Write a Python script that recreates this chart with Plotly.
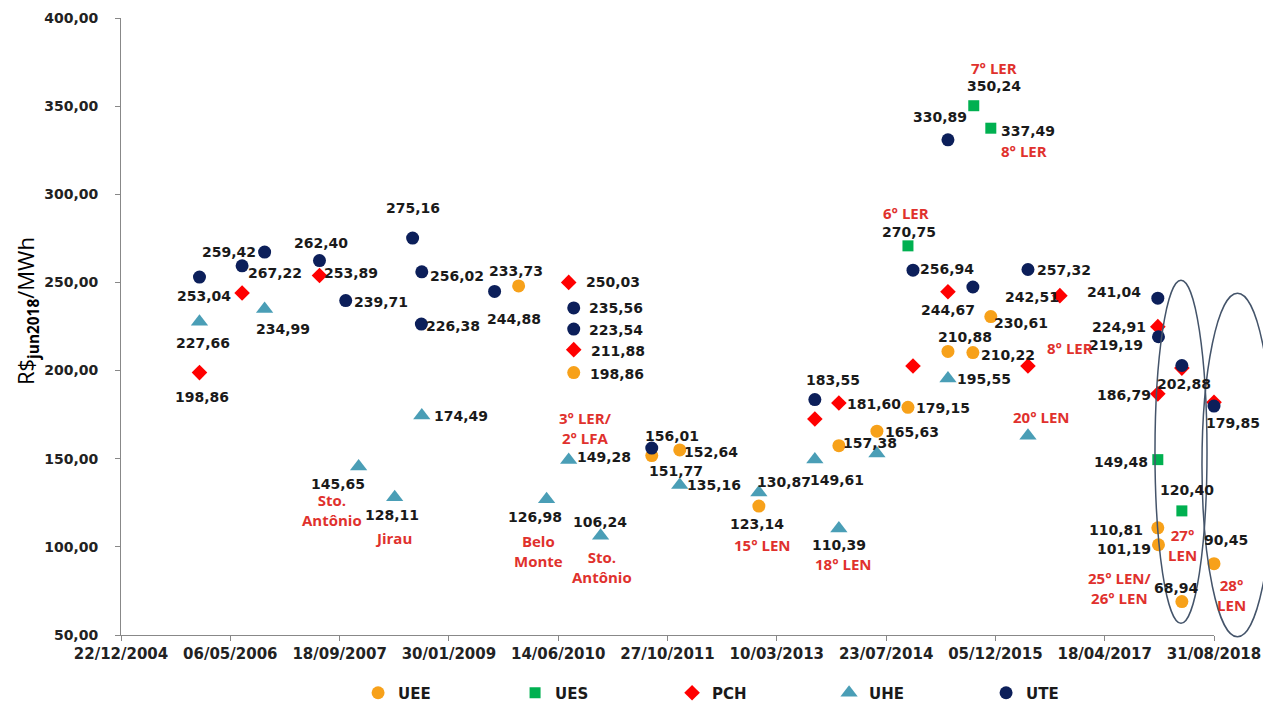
import plotly.graph_objects as go

# --- data ---
uee_dates = ["2009-12-15", "2010-08-24", "2011-08-16", "2011-12-22", "2012-12-18",
             "2013-12-19", "2014-06-11", "2014-10-31", "2015-05-02", "2015-08-24",
             "2015-11-14", "2017-12-17", "2017-12-20", "2018-04-06", "2018-08-31"]
uee_values = [248.0, 198.86, 151.77, 155.0, 123.14, 157.38, 165.63, 179.15, 210.88,
              210.22, 230.61, 110.81, 101.19, 68.94, 90.45]
uee_labels = ["233,73", "198,86", "151,77", "152,64", "123,14", "157,38", "165,63",
              "179,15", "210,88", "210,22", "230,61", "110,81", "101,19", "68,94", "90,45"]

ues_dates = ["2014-10-31", "2015-08-28", "2015-11-14", "2017-12-17", "2018-04-06"]
ues_values = [270.75, 350.24, 337.49, 149.48, 120.40]
ues_labels = ["270,75", "350,24", "337,49", "149,48", "120,40"]

pch_dates = ["2005-12-16", "2006-06-29", "2007-06-18", "2010-08-01", "2010-08-24",
             "2013-08-31", "2013-12-19", "2014-11-23", "2015-05-02", "2016-05-02",
             "2016-09-25", "2017-12-17", "2017-12-17", "2018-04-06", "2018-08-31"]
pch_values = [198.86, 244.0, 253.89, 250.03, 211.88, 172.5, 181.60, 202.6, 244.67,
              202.6, 242.51, 224.91, 186.79, 201.4, 182.0]
pch_labels = ["198,86", "", "253,89", "250,03", "211,88", "", "181,60", "", "244,67",
              "", "242,51", "224,91", "186,79", "", ""]

uhe_dates = ["2005-12-16", "2006-10-10", "2007-12-14", "2008-05-27", "2008-09-28",
             "2010-04-22", "2010-08-01", "2010-12-25", "2011-12-22", "2012-12-18",
             "2013-08-31", "2013-12-19", "2014-06-11", "2015-05-02", "2016-05-02"]
uhe_values = [227.66, 234.99, 145.65, 128.11, 174.49, 126.98, 149.28, 106.24, 135.16,
              130.87, 149.61, 110.39, 153.0, 195.55, 163.0]
uhe_labels = ["227,66", "234,99", "145,65", "128,11", "174,49", "126,98", "149,28",
              "106,24", "135,16", "130,87", "149,61", "110,39", "", "195,55", ""]

ute_dates = ["2005-12-16", "2006-06-29", "2006-10-10", "2007-06-18", "2007-10-16",
             "2008-08-17", "2008-09-28", "2008-09-26", "2009-08-27", "2010-08-24",
             "2010-08-24", "2011-08-16", "2013-08-31", "2014-11-23", "2015-05-02",
             "2015-08-24", "2016-05-02", "2017-12-17", "2017-12-20", "2018-04-06",
             "2018-08-31"]
ute_values = [253.04, 259.42, 267.22, 262.40, 239.71, 275.16, 256.02, 226.38, 244.88,
              235.56, 223.54, 156.01, 183.55, 256.94, 330.89, 247.4, 257.32, 241.04,
              219.19, 202.88, 179.85]
ute_labels = ["253,04", "259,42", "267,22", "262,40", "239,71", "275,16", "256,02",
              "226,38", "244,88", "235,56", "223,54", "156,01", "183,55", "256,94",
              "330,89", "", "257,32", "241,04", "219,19", "202,88", "179,85"]

# label offsets in px (dx right, dy down) relative to each point
uee_label_pos = [(-3, -15), (43, 1), (24, 15), (31, 2), (-2, 18), (31, -3), (35, 1),
                 (35, 1), (17, -14), (35, 2), (30, 6), (-42, 2), (-34, 4), (-5, -14), (12, -24)]
ues_label_pos = [(1, -14), (20, -20), (37, 3), (-37, 2), (5, -21)]
pch_label_pos = [(3, 24), None, (32, -3), (44, 0), (44, 1), None, (35, 1), None, (0, 18),
                 None, (-28, 1), (-39, 0), (-34, 1), None, None]
uhe_label_pos = [(4, 21), (18, 20), (-21, 18), (-3, 18), (39, 0), (-12, 18), (35, -3),
                 (-1, -14), (34, 0), (25, -10), (22, 21), (0, 16), None, (36, 1), None]
ute_label_pos = [(5, 19), (-13, -14), (10, 21), (2, -18), (35, 1), (0, -30), (35, 4),
                 (32, 2), (19, 28), (42, 0), (42, 1), (20, -12), (18, -20), (34, -1),
                 (-8, -23), None, (36, 0), (-44, -6), (-42, 8), (2, 19), (19, 17)]

# red auction notes: (series, point index, text, dx, dy)
notes = [
    ("UHE", 2, "Sto.<br>Antônio", -27, 44),
    ("UHE", 3, "Jirau", -1, 41),
    ("UHE", 5, "Belo<br>Monte", -8, 52),
    ("UHE", 7, "Sto.<br>Antônio", 1, 31),
    ("UHE", 6, "3° LER/<br>2° LFA", 17, -32),
    ("UEE", 4, "15° LEN", 4, 39),
    ("UHE", 11, "18° LEN", 5, 35),
    ("UES", 0, "6° LER", -2, -33),
    ("UES", 1, "7° LER", 20, -38),
    ("UES", 2, "8° LER", 33, 23),
    ("UHE", 14, "20° LEN", 14, -19),
    ("PCH", 9, "8° LER", 42, -18),
    ("UEE", 12, "25° LEN/<br>26° LEN", -38, 43),
    ("UES", 4, "27°<br>LEN", 1, 34),
    ("UEE", 14, "28°<br>LEN", 17, 31),
]

series = {
    "UEE": (uee_dates, uee_values, uee_labels, uee_label_pos),
    "UES": (ues_dates, ues_values, ues_labels, ues_label_pos),
    "PCH": (pch_dates, pch_values, pch_labels, pch_label_pos),
    "UHE": (uhe_dates, uhe_values, uhe_labels, uhe_label_pos),
    "UTE": (ute_dates, ute_values, ute_labels, ute_label_pos),
}
styles = {
    "UEE": dict(symbol="circle", color="#F7A11A", size=13),
    "UES": dict(symbol="square", color="#00B050", size=11),
    "PCH": dict(symbol="diamond", color="#FF0000", size=12),
    "UHE": dict(symbol="triangle-up", color="#4A9EB6", size=15),
    "UTE": dict(symbol="circle", color="#0C1F5A", size=13),
}

label_font = dict(family="DejaVu Sans", size=14, color="#1a1a1a", weight="bold")
note_font = dict(family="Open Sans", size=15, color="#E0312D", weight="bold")

fig = go.Figure()
for name, (dates, values, labels, pos) in series.items():
    st = styles[name]
    fig.add_trace(go.Scatter(
        x=dates, y=values,
        mode="markers",
        name=name,
        cliponaxis=False,
        marker=dict(symbol=st["symbol"], color=st["color"], size=st["size"], line=dict(width=0)),
    ))
    for d, v, lab, off in zip(dates, values, labels, pos):
        if not lab:
            continue
        fig.add_annotation(x=d, y=v, text=lab, showarrow=False,
                           xshift=off[0], yshift=-off[1], font=label_font)

for name, i, text, dx, dy in notes:
    dates, values = series[name][0], series[name][1]
    fig.add_annotation(x=dates[i], y=values[i], text=text, showarrow=False,
                       xshift=dx, yshift=-dy, font=note_font)

# the two ellipses around the 2017/2018 auctions
for x0, x1, y0, y1 in [(0.946, 0.9936, 0.019, 0.575), (0.989, 1.054, -0.003, 0.554)]:
    fig.add_shape(type="circle", xref="paper", yref="paper",
                  x0=x0, x1=x1, y0=y0, y1=y1,
                  line=dict(color="#44546A", width=1.5))

# y axis title as rotated text
fig.add_annotation(xref="paper", yref="paper", x=-0.086, y=0.525, textangle=-90,
                   xanchor="center", yanchor="middle",
                   text="R$<sub><b>jun2018</b></sub>/MWh", showarrow=False,
                   font=dict(family="Open Sans", size=22, color="#000000"))

# page body adds an 8px margin, so the figure is 8px smaller each way
fig.update_layout(
    width=1263, height=696,
    margin=dict(l=113, r=57, t=10, b=69, autoexpand=False),
    plot_bgcolor="white", paper_bgcolor="white",
    separators=",.",
    showlegend=True,
    legend=dict(orientation="h", x=0.576, xanchor="center", y=-0.094, yanchor="middle",
                entrywidth=112, font=dict(family="DejaVu Sans", size=15, color="#1a1a1a", weight="bold")),
    xaxis=dict(
        type="date",
        range=["2004-12-22", "2018-08-31"],
        tick0="2004-12-22", dtick=500 * 86400000,
        tickformat="%d/%m/%Y",
        showline=True, linecolor="#888888", linewidth=1,
        ticks="outside", ticklen=5, tickcolor="#888888",
        showgrid=False, zeroline=False, automargin=False,
        tickfont=dict(family="DejaVu Sans", size=15, color="#222222", weight="bold"),
    ),
    yaxis=dict(
        range=[50, 400], dtick=50, tickformat=".2f",
        showline=True, linecolor="#888888", linewidth=1,
        ticks="outside", ticklen=5, tickcolor="#888888",
        showgrid=False, zeroline=False, automargin=False,
        ticklabelstandoff=14,
        tickfont=dict(family="DejaVu Sans", size=14, color="#222222", weight="bold"),
    ),
)

fig.write_html("out.html")
